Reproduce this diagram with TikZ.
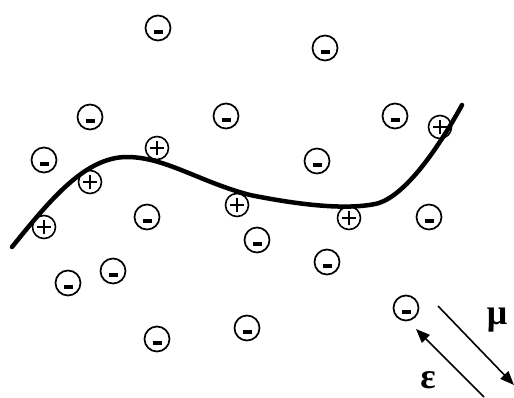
\documentclass[tikz,border=0pt]{standalone}
\usepackage{fontspec}
\newfontfamily\grkfont{Liberation Serif}
\usetikzlibrary{arrows.meta}
\begin{document}
\begin{tikzpicture}[x=1pt,y=-1pt,
  chargeneg/.style={circle,draw,line width=1.7pt,minimum size=25pt,inner sep=0pt,
    path picture={\fill ([xshift=-4.5pt,yshift=-5.5pt]path picture bounding box.center) rectangle ++(9pt,3.2pt);}},
  chargepos/.style={circle,draw,line width=1.6pt,minimum size=23pt,inner sep=0pt,
    path picture={\draw[line width=1.2pt] ([xshift=-7pt]path picture bounding box.center) -- ++(14pt,0pt)
      ([yshift=-7pt]path picture bounding box.center) -- ++(0pt,14pt);}},
  curve/.style={line width=4.5pt,line cap=round},
  arr/.style={line width=1.6pt,-{Triangle[length=14pt,width=11pt]}},
  lbl/.style={font=\grkfont\bfseries\fontsize{36}{40}\selectfont,inner sep=0pt}]
\useasboundingbox (0,0) rectangle (514,397);
% negative charges
\node[chargeneg] (n1) at (158,28) {};
\node[chargeneg] (n2) at (325,48) {};
\node[chargeneg] (n3) at (90,117) {};
\node[chargeneg] (n4) at (226,116) {};
\node[chargeneg] (n5) at (395,116) {};
\node[chargeneg] (n6) at (44,160) {};
\node[chargeneg] (n7) at (317,161) {};
\node[chargeneg] (n8) at (147,217) {};
\node[chargeneg] (n9) at (257,240) {};
\node[chargeneg] (n10) at (429,217) {};
\node[chargeneg] (n11) at (327,262) {};
\node[chargeneg] (n12) at (113,271) {};
\node[chargeneg] (n13) at (68,283) {};
\node[chargeneg] (n14) at (157,339) {};
\node[chargeneg] (n15) at (247,328) {};
\node[chargeneg] (n16) at (406,308) {};
% positive charges
\node[chargepos] (p1) at (157,148) {};
\node[chargepos] (p2) at (90,182) {};
\node[chargepos] (p3) at (44,227) {};
\node[chargepos] (p4) at (237,205) {};
\node[chargepos] (p5) at (349,218) {};
\node[chargepos] (p6) at (440,127) {};
% interface curve
\draw[curve] (12,247) .. controls (50,200) and (85,157) .. (127,157)
  .. controls (165,157) and (200,182) .. (250,195)
  .. controls (300,205) and (345,210) .. (375,204)
  .. controls (405,198) and (440,145) .. (462,105);
% arrows
\coordinate (m1) at (438,306);
\coordinate (m2) at (514,385);
\coordinate (e1) at (484,397);
\coordinate (e2) at (416,329);
\draw[arr] (m1) -- (m2);
\draw[arr] (e1) -- (e2);
\node[lbl] (mu) at (497,320) {μ};
\node[lbl] (eps) at (428,380) {ε};
\end{tikzpicture}
\end{document}
